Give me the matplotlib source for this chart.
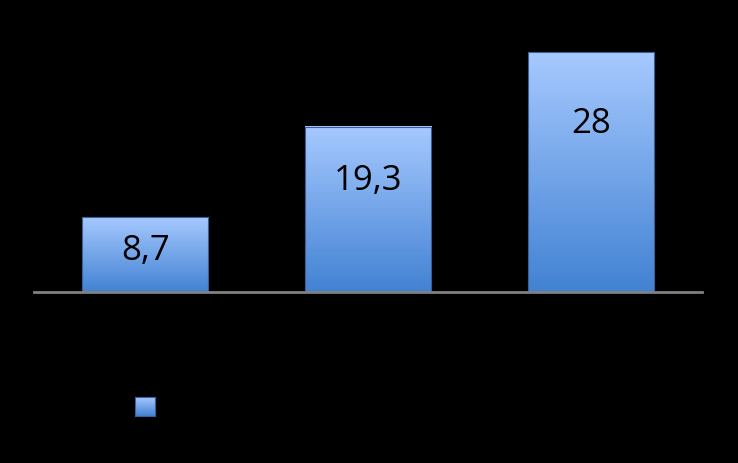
import numpy as np
import matplotlib
matplotlib.use('Agg')
import matplotlib.pyplot as plt
from matplotlib.colors import LinearSegmentedColormap

categories = ['', '', '']
values = [8.7, 19.3, 28]
value_labels = ['8,7', '19,3', '28']
series_name = ''

# label offsets below bar top (pixels)
label_offsets = [-34, -54, -72]

grad = LinearSegmentedColormap.from_list('bluegrad', ['#4282d3', '#a6c9ff'])

fig = plt.figure(figsize=(7.38, 4.63), dpi=100, facecolor='black')
ax = fig.add_axes([34/738, (463-292)/463, 668/738, 270/463], facecolor='black')

x = np.arange(len(values))
width = 0.566
bars = ax.bar(x, values, width, facecolor='none', edgecolor='#3b5f96', linewidth=0.8, zorder=3)

g = np.linspace(0, 1, 256).reshape(-1, 1)
for b in bars:
    x0, y0 = b.get_x(), b.get_y()
    ax.imshow(g, extent=(x0, x0 + b.get_width(), y0, y0 + b.get_height()),
              origin='lower', aspect='auto', cmap=grad, zorder=2)

for b, lab, off in zip(bars, value_labels, label_offsets):
    ax.annotate(lab, (b.get_x() + b.get_width() / 2, b.get_height()),
                xytext=(0, off * 0.72), textcoords='offset points',
                ha='center', va='center', fontsize=25, family='Open Sans', color='black', zorder=4)

ax.set_xlim(-0.5, len(values) - 0.5)
ax.set_ylim(0, 31.5)
for s in ['left', 'right', 'top']:
    ax.spines[s].set_visible(False)
ax.spines['bottom'].set_color('#808080')
ax.spines['bottom'].set_linewidth(2)
ax.spines['bottom'].set_zorder(5)
ax.set_xticks([])
ax.set_yticks([])

# legend swatch (text is black on black in the original)
lax = fig.add_axes([135/738, (463-416)/463, 20/738, 19/463])
lax.imshow(g, origin='lower', aspect='auto', cmap=grad, extent=(0, 1, 0, 1))
lax.set_xticks([])
lax.set_yticks([])
for s in lax.spines.values():
    s.set_color('#3b5f96')
    s.set_linewidth(0.8)
fig.text(160/738, 1 - 406/463, series_name, color='black', va='center', fontsize=12)

fig.savefig('out.png', dpi=100, facecolor='black')
